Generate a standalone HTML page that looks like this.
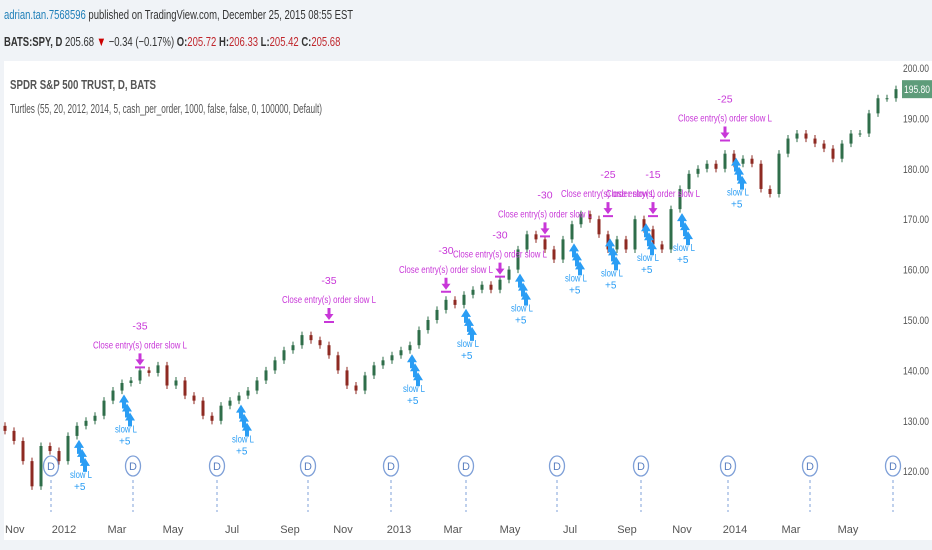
<!DOCTYPE html>
<html><head><meta charset="utf-8"><style>
body{margin:0;width:932px;height:550px;background:#f0f3f7;font-family:"Liberation Sans",sans-serif;overflow:hidden;position:relative}
.hdr{position:absolute;left:4px;font-size:12px;color:#333;white-space:nowrap;transform:scaleX(0.73);transform-origin:left}
</style></head><body>
<div class="hdr" style="top:7px;font-size:13px"><span style="color:#1e7fb8">adrian.tan.7568596</span> published on TradingView.com, December 25, 2015 08:55 EST</div>
<div class="hdr" style="top:34px;font-size:13px"><b>BATS:SPY, D</b> 205.68 <span style="color:#c00">▼</span> −0.34 (−0.17%) <b>O:</b><span style="color:#c0272d">205.72</span> <b>H:</b><span style="color:#c0272d">206.33</span> <b>L:</b><span style="color:#c0272d">205.42</span> <b>C:</b><span style="color:#c0272d">205.68</span></div>
<svg id="chart" width="932" height="550" style="position:absolute;left:0;top:0">
<rect x="4" y="61" width="928" height="479" fill="#fff"/>
<text x="10" y="89" font-size="12.5" font-weight="bold" fill="#555" textLength="146" lengthAdjust="spacingAndGlyphs">SPDR S&amp;P 500 TRUST, D, BATS</text>
<text x="10" y="113" font-size="12.5" fill="#555" textLength="312" lengthAdjust="spacingAndGlyphs">Turtles (55, 20, 2012, 2014, 5, cash_per_order, 1000, false, false, 0, 100000, Default)</text>
<g id="yaxis"></g><g id="xaxis"></g><g id="divs"></g><g id="candles"></g><g id="trades"></g><g id="ann"></g>
</svg>
<script>
const closes=[128,126,122,117,125,124,122,127,129,130,131,134,136,137.5,138,140,139.5,141,137,138,135,134,131,130,133,134,135,136,138,140,142,144,145,147,146,145,143,140,137,136,139,141,142,143,144,145,148,150,152,154,153,155,156,157,156,158,160,164,167,166,164,162,166,169,171,170,167,164,166,164,170,168,165,164,172,176,179,180,181,180,183,181,182,181,176,175,183,186,187,186,185,184,182,185,187,187,191,194,194,195.8];
const yTicks=[200,190,180,170,160,150,140,130,120];
const xLabels=["Nov","2012","Mar","May","Jul","Sep","Nov","2013","Mar","May","Jul","Sep","Nov","2014","Mar","May"];
const xLabelPos=[5,64,117,173,232,290,343,399,453,510,570,627,682,735,791,848];
const divX=[51,133,217,308,391,466,557,641,728,810,893];
const annPrice=[141,150,156,159,167,171,171,186];
const annIdx=[15,36,49,55,60,67,72,80];
const annQty=["-35","-35","-30","-30","-30","-25","-15","-25"];
const entryIdx=[7,12,25,44,50,56,62,66,70,74,80];
const NS="http://www.w3.org/2000/svg";
const y=p=>68+(200-p)*5.04;
const x=i=>5+i*(891/(closes.length-1));
function mk(t,a,parent){const e=document.createElementNS(NS,t);for(const k in a)e.setAttribute(k,a[k]);document.getElementById(parent).appendChild(e);return e;}
yTicks.forEach(v=>{const t=mk('text',{x:903,y:y(v)+4,'font-size':11,fill:'#555',textLength:26,lengthAdjust:'spacingAndGlyphs'},'yaxis');t.textContent=v.toFixed(2);

});
xLabels.forEach((l,i)=>{const t=mk('text',{x:xLabelPos[i],y:533,'font-size':11,fill:'#555','text-anchor':i==0?'start':'middle'},'xaxis');t.textContent=l;

});
divX.forEach(cx=>{const g=mk('g',{},'divs');


const l=document.createElementNS(NS,'line');[['x1',cx],['x2',cx],['y1',480],['y2',512],['stroke','#7fa0d8'],['stroke-dasharray','3,3']].forEach(a=>l.setAttribute(a[0],a[1]));g.appendChild(l);
const c=document.createElementNS(NS,'ellipse');[['cx',cx],['cy',466],['rx',7.5],['ry',10],['fill','#fff'],['stroke','#7fa0d8'],['stroke-width',1.3]].forEach(a=>c.setAttribute(a[0],a[1]));g.appendChild(c);
const t=document.createElementNS(NS,'text');[['x',cx],['y',470],['font-size',11],['fill','#5a7fc0'],['text-anchor','middle']].forEach(a=>t.setAttribute(a[0],a[1]));t.textContent='D';g.appendChild(t);});
closes.forEach((c,i)=>{const o=i?closes[i-1]:c+1;const up=c>=o;const col=up?'#2f6e4a':'#8e2a22';const hi=Math.max(o,c)+0.7,lo=Math.min(o,c)-0.7;
const w=mk('line',{x1:x(i),x2:x(i),y1:y(hi),y2:y(lo),stroke:col},'candles');


const b=mk('rect',{x:x(i)-1.5,y:y(Math.max(o,c)),width:3,height:Math.max(1,Math.abs(y(o)-y(c))),fill:col},'candles');

});
entryIdx.forEach(i=>{const bx=x(i)+6,by=y(closes[i])+12;const g=mk('g',{fill:'#2a9df4'},'trades');


for(let k=0;k<3;k++){const p=document.createElementNS(NS,'path');p.setAttribute('d',`M${bx+k*3} ${by+k*9} l5 -8 l5 8 h-3 v6 h-4 v-6z`);g.appendChild(p);}
const t=document.createElementNS(NS,'text');[['x',bx-4],['y',by+30],['font-size',10],['textLength',22],['lengthAdjust','spacingAndGlyphs']].forEach(a=>t.setAttribute(a[0],a[1]));t.textContent='slow L';g.appendChild(t);
const t2=document.createElementNS(NS,'text');[['x',bx],['y',by+42],['font-size',10]].forEach(a=>t2.setAttribute(a[0],a[1]));t2.textContent='+5';g.appendChild(t2);});
annIdx.forEach((i,k)=>{const ax=x(i),ay=y(annPrice[k]);const g=mk('g',{fill:'#c837d8'},'ann');


const q=document.createElementNS(NS,'text');[['x',ax],['y',ay-36],['font-size',10.5],['text-anchor','middle']].forEach(a=>q.setAttribute(a[0],a[1]));q.textContent=annQty[k];g.appendChild(q);
const t=document.createElementNS(NS,'text');[['x',ax-47],['y',ay-17],['font-size',10.5],['textLength',94],['lengthAdjust','spacingAndGlyphs']].forEach(a=>t.setAttribute(a[0],a[1]));t.textContent='Close entry(s) order slow L';g.appendChild(t);
const p=document.createElementNS(NS,'path');p.setAttribute('d',`M${ax-1.5} ${ay-12} h3 v6 h3 l-4.5 6 l-4.5 -6 h3z M${ax-5} ${ay+1} h10 v2 h-10z`);g.appendChild(p);});
const last=closes[closes.length-1];
const tag=mk('rect',{x:902,y:y(last)-9,width:30,height:18,fill:'#5e9c7a'},'yaxis');


const tt=mk('text',{x:904,y:y(last)+4,'font-size':11,fill:'#fff',textLength:26,lengthAdjust:'spacingAndGlyphs'},'yaxis');tt.textContent=last.toFixed(2);


</script>
</body></html>
